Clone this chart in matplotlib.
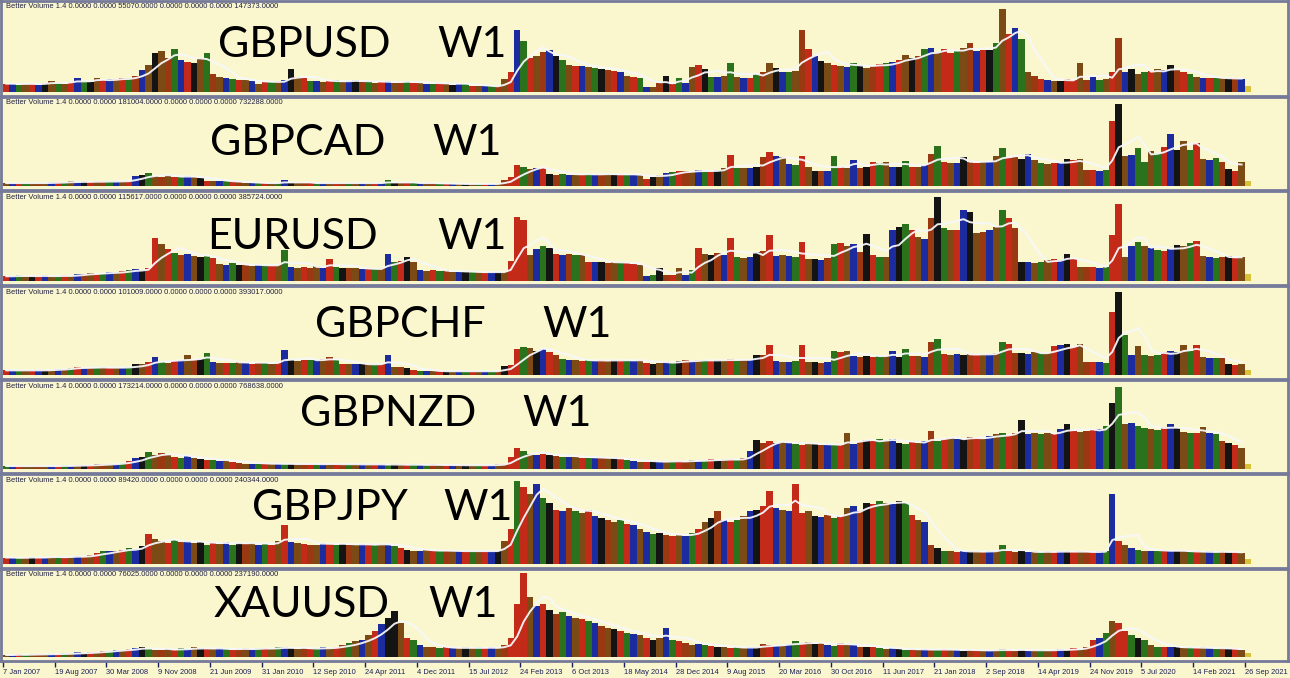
import numpy as np
import pandas as pd
import matplotlib
matplotlib.use("Agg")
import matplotlib.pyplot as plt

# === DATA ===
# bar heights in % of the window max volume, one bar = 4 weeks (193 bars from 7 Jan 2007)
symbols = ["GBPUSD", "GBPCAD", "EURUSD", "GBPCHF", "GBPNZD", "GBPJPY", "XAUUSD"]
vol_mid = [55070, 181004, 115617, 101009, 173214, 89420, 76025]
vol_max = [147373, 732288, 385724, 393017, 768638, 240344, 237190]

date_labels = ["7 Jan 2007", "19 Aug 2007", "30 Mar 2008", "9 Nov 2008", "21 Jun 2009",
               "31 Jan 2010", "12 Sep 2010", "24 Apr 2011", "4 Dec 2011", "15 Jul 2012",
               "24 Feb 2013", "6 Oct 2013", "18 May 2014", "28 Dec 2014", "9 Aug 2015",
               "20 Mar 2016", "30 Oct 2016", "11 Jun 2017", "21 Jan 2018", "2 Sep 2018",
               "14 Apr 2019", "24 Nov 2019", "5 Jul 2020", "14 Feb 2021", "26 Sep 2021"]

gbpusd = [9, 9, 8, 9, 9, 8, 10, 12, 10, 9, 11, 16, 12, 11, 15, 13,
          14, 14, 15, 16, 18, 24, 30, 44, 46, 38, 48, 36, 34, 33, 38, 44,
          20, 17, 15, 14, 13, 13, 12, 9, 11, 11, 12, 13, 26, 17, 15, 12,
          12, 11, 12, 13, 11, 12, 13, 11, 12, 10, 11, 12, 10, 11, 12, 10,
          10, 9, 9, 10, 9, 8, 9, 9, 6, 6, 6, 6, 6, 14, 22, 70,
          58, 38, 40, 45, 47, 40, 36, 30, 29, 29, 28, 27, 26, 25, 23, 22,
          18, 17, 16, 5, 5, 10, 18, 9, 15, 10, 28, 30, 26, 17, 17, 18,
          32, 17, 16, 16, 20, 22, 33, 27, 22, 22, 23, 70, 48, 40, 35, 33,
          30, 29, 28, 32, 30, 27, 29, 31, 33, 34, 36, 42, 38, 40, 48, 50,
          45, 48, 44, 46, 50, 55, 46, 47, 47, 55, 94, 65, 72, 60, 22, 18,
          14, 13, 12, 12, 14, 13, 33, 13, 17, 13, 14, 22, 61, 22, 26, 20,
          22, 23, 26, 24, 30, 24, 22, 20, 17, 16, 15, 15, 15, 15, 15, 14,
          6]
gbpcad = [3, 3, 3, 3, 3, 3, 3, 4, 4, 4, 5, 4, 5, 4, 5, 5,
          5, 5, 5, 6, 11, 13, 15, 11, 10, 12, 10, 10, 11, 10, 9, 6,
          5, 5, 5, 5, 4, 3, 3, 3, 3, 3, 3, 7, 3, 3, 3, 3,
          3, 3, 3, 3, 3, 3, 3, 3, 3, 3, 3, 7, 3, 3, 3, 3,
          3, 3, 3, 2, 2, 2, 2, 2, 2, 2, 2, 2, 2, 7, 10, 24,
          22, 19, 21, 20, 14, 13, 14, 13, 13, 13, 14, 13, 13, 14, 13, 13,
          13, 13, 12, 8, 10, 13, 15, 16, 17, 17, 16, 18, 17, 17, 18, 20,
          36, 21, 20, 21, 22, 33, 39, 34, 33, 25, 24, 35, 22, 17, 17, 17,
          35, 22, 21, 30, 21, 22, 27, 26, 27, 22, 22, 29, 22, 22, 24, 37,
          46, 27, 26, 26, 33, 27, 26, 27, 27, 35, 44, 32, 33, 31, 37, 30,
          26, 25, 26, 26, 31, 30, 31, 18, 18, 17, 18, 75, 95, 35, 36, 44,
          27, 40, 38, 45, 60, 42, 52, 42, 50, 31, 30, 32, 28, 19, 17, 27,
          5]
eurusd = [5, 5, 6, 5, 5, 5, 6, 5, 5, 6, 5, 8, 8, 9, 8, 8,
          10, 10, 11, 12, 13, 12, 15, 49, 42, 36, 32, 30, 31, 28, 27, 28,
          26, 19, 18, 20, 18, 18, 17, 18, 18, 17, 18, 35, 16, 15, 16, 15,
          17, 15, 25, 16, 15, 15, 14, 13, 13, 13, 14, 31, 22, 23, 27, 22,
          12, 11, 12, 11, 12, 10, 10, 10, 10, 10, 9, 10, 10, 10, 23, 73,
          70, 29, 36, 40, 37, 31, 30, 31, 30, 29, 22, 21, 22, 20, 21, 21,
          20, 19, 18, 5, 6, 15, 6, 7, 14, 7, 12, 38, 31, 30, 32, 30,
          49, 27, 26, 27, 33, 34, 52, 28, 29, 28, 27, 44, 25, 25, 24, 26,
          42, 43, 40, 42, 33, 54, 30, 27, 27, 58, 62, 65, 58, 50, 48, 72,
          96, 60, 58, 58, 81, 79, 55, 56, 58, 62, 81, 72, 60, 21, 22, 20,
          21, 24, 25, 24, 31, 25, 16, 16, 16, 15, 16, 52, 88, 27, 40, 44,
          40, 38, 35, 34, 36, 41, 40, 43, 46, 28, 27, 26, 27, 28, 26, 27,
          8]
gbpchf = [5, 5, 5, 5, 5, 5, 5, 6, 7, 7, 8, 9, 8, 8, 8, 9,
          8, 8, 8, 9, 12, 12, 15, 21, 15, 14, 16, 17, 23, 17, 18, 25,
          15, 14, 14, 14, 15, 14, 13, 14, 14, 13, 14, 29, 17, 16, 17, 17,
          17, 18, 20, 17, 13, 12, 12, 12, 12, 12, 13, 23, 9, 9, 8, 6,
          4, 4, 4, 4, 4, 4, 4, 4, 4, 4, 4, 4, 4, 10, 11, 30,
          32, 31, 28, 30, 26, 23, 18, 17, 17, 16, 17, 16, 17, 16, 17, 17,
          17, 16, 17, 14, 13, 14, 15, 14, 16, 17, 16, 17, 17, 16, 17, 17,
          18, 17, 17, 17, 23, 23, 35, 16, 15, 15, 16, 35, 15, 15, 14, 15,
          27, 26, 27, 22, 21, 22, 21, 22, 22, 28, 21, 30, 22, 22, 21, 38,
          42, 24, 23, 24, 23, 24, 23, 24, 24, 25, 38, 36, 25, 25, 24, 26,
          25, 25, 33, 34, 36, 32, 36, 15, 15, 15, 14, 73, 96, 46, 23, 33,
          23, 22, 23, 26, 27, 26, 35, 28, 34, 20, 19, 19, 19, 12, 11, 12,
          5]
gbpnzd = [3, 3, 3, 3, 3, 3, 3, 3, 3, 4, 3, 4, 4, 4, 5, 5,
          6, 6, 7, 9, 12, 14, 19, 16, 18, 16, 14, 13, 15, 12, 11, 10,
          10, 9, 10, 8, 7, 6, 6, 6, 6, 5, 6, 5, 6, 5, 5, 6,
          5, 5, 6, 5, 5, 5, 5, 5, 5, 5, 5, 4, 5, 5, 4, 5,
          4, 4, 5, 4, 4, 4, 4, 4, 4, 4, 4, 4, 5, 6, 14, 24,
          20, 17, 16, 17, 16, 15, 14, 14, 14, 13, 13, 12, 13, 12, 12, 11,
          10, 9, 8, 8, 9, 8, 8, 9, 9, 8, 10, 9, 10, 11, 10, 11,
          11, 10, 12, 20, 33, 30, 32, 30, 31, 30, 29, 28, 30, 29, 28, 27,
          27, 28, 42, 29, 31, 33, 32, 34, 33, 35, 30, 29, 31, 30, 32, 44,
          32, 34, 36, 35, 34, 37, 36, 35, 38, 40, 41, 39, 42, 56, 40, 41,
          40, 42, 40, 46, 52, 44, 43, 44, 45, 46, 50, 76, 95, 52, 53, 50,
          47, 46, 45, 48, 52, 47, 43, 42, 42, 48, 41, 40, 32, 30, 28, 24,
          5]
gbpjpy = [7, 7, 6, 7, 8, 7, 7, 8, 8, 7, 8, 9, 8, 10, 12, 15,
          14, 15, 16, 18, 17, 20, 34, 28, 26, 24, 27, 25, 26, 24, 25, 22,
          24, 23, 25, 22, 24, 23, 24, 22, 23, 22, 26, 44, 25, 24, 23, 22,
          22, 24, 23, 22, 23, 21, 22, 23, 22, 21, 23, 22, 20, 18, 16, 15,
          15, 16, 15, 14, 15, 14, 15, 14, 14, 15, 14, 15, 14, 26, 40, 95,
          88, 80, 92, 75, 70, 62, 60, 64, 60, 58, 62, 55, 52, 50, 48, 50,
          46, 44, 40, 36, 34, 35, 33, 32, 33, 32, 35, 40, 48, 52, 60, 50,
          48, 50, 55, 60, 62, 66, 84, 64, 62, 60, 92, 58, 60, 55, 54, 56,
          52, 55, 64, 66, 60, 70, 68, 72, 70, 68, 72, 70, 56, 50, 48, 22,
          18, 14, 14, 13, 14, 15, 14, 13, 14, 15, 22, 14, 13, 14, 13, 14,
          13, 14, 13, 15, 14, 13, 14, 13, 13, 14, 15, 80, 26, 22, 18, 16,
          15, 14, 15, 16, 14, 15, 14, 13, 14, 13, 14, 13, 14, 13, 13, 12,
          5]
xauusd = [2, 2, 3, 2, 3, 3, 3, 3, 3, 4, 4, 5, 4, 5, 6, 7,
          7, 8, 8, 9, 10, 12, 9, 8, 8, 9, 8, 10, 9, 11, 10, 9,
          9, 10, 9, 8, 9, 10, 9, 10, 10, 9, 11, 12, 10, 9, 10, 9,
          10, 11, 10, 12, 14, 16, 18, 20, 25, 30, 38, 46, 54, 40, 22, 20,
          14, 12, 11, 10, 11, 10, 10, 11, 10, 11, 10, 11, 10, 14, 22, 62,
          98, 70, 60, 62, 55, 50, 52, 48, 46, 44, 42, 40, 36, 34, 32, 30,
          28, 27, 26, 22, 20, 22, 34, 20, 18, 16, 14, 15, 14, 13, 12, 11,
          10, 11, 10, 12, 11, 15, 14, 13, 14, 15, 18, 16, 17, 15, 16, 14,
          13, 16, 15, 14, 12, 11, 12, 10, 9, 10, 9, 8, 9, 8, 9, 8,
          8, 9, 8, 8, 7, 8, 8, 7, 7, 8, 9, 8, 7, 8, 7, 8,
          8, 7, 8, 9, 8, 10, 9, 12, 20, 22, 28, 42, 40, 30, 26, 22,
          20, 14, 12, 11, 12, 11, 10, 11, 10, 11, 10, 9, 10, 9, 9, 8,
          4]

# bar colour class per bar (r red, g green, b blue, k black, n brown, o rust, p purple, y current)
gbpusd_cls = ("rbgnrbkn gnrbgknr bnrgobnk nogbrkng onbgrnbn rgnbknrg bnrgnbko gnrbnogr "
              "nbgrnkbg rnbgonrb grnobkgn rbngkorb nrgbnokr gbnrkgbn gnbrgonk bgnorbkn "
              "rnbgknor gbrnkogb nrrgnobr kgnrbgno rbnkrrno bgnrobkn grnbkorg nbrgnkob y")
gbpcad_cls = ("nbrgnonb rgnbkrno gbnrbkgn onrgbnkr nbgronbg rngbknor gbnrognb nrbgknrg "
              "bnogrbnk ngrbnorr gnbrkogb nrgbonkr gbnrknbg ronbgrkn rgnbkorb nbgrnkob "
              "grnbokrg nbkgrnbo grnbkorn bngrokbn gnrbkrno rbgrknbg gngrbkng rnbgokrn y")
eurusd_cls = ("rbgnkrbn grnbonrg bnrgbkrr nrgobnkg rnbgkonb grngbnro nbrgkonb rgnbgrkn "
              "bnrgonbk gnrbknrr rnbgkrbo gnrbkong rrnbgkor nbgrnkob rgnbkorb nbgrnkbo "
              "grnbokrg nbkgrnbo kgnrbkno bngrokbn gnrbkrno rbgrrnbg nbgrbkng rnbgokrn y")
gbpchf_cls = ("rbgnrbkn bngrbogn rnbgknrb gnrbnokg bnrgnbro gnrbknrg bnogrnbk ngrbnokr "
              "gbnrknbg rnbgokrr gnkbrogb nrgbonkr gbnrknbg kobngrkn rgnbkorb nbgrnkob "
              "grnbokrg nbkgrnbo grnbkorn bngrokbn gnrbkrno rbgrkgbn gngrbkng rnbgokrn y")
gbpnzd_cls = ("gbrnnonb rgbnkrno nbgrbkgn onrgbnkr gbnronbg rnbgknor gbnrognb nrbgknrg "
              "bgonrbnk ngrbnorr gnbrkogb nrgbonkr gbnrkbng ronbgrkn rgnbkorb nbgrnkob "
              "grnbokrg nbkgrnbo grnbkorn bngrokbn gnrbkrno rbgkgnbg gngrbkng rnbgokrn y")
gbpjpy_cls = ("rbgnkrbn grnbonrg bnrgbkrn nrgobnkg rnbgkonb grnrbnro nbrgkonb rgnbgrkn "
              "bnrgonbr gnrbknrg rnbgkrbo gnrbkong rbnbgkor nbgrnkob rgnbkrrb nbrrnkbo "
              "grnbokrg nbkgrnbo kgnrbkno bngrokbn gnrbkrno rbgbrnbg nbgrbkng rnbgokrn y")
xauusd_cls = ("nbrgnonb rgnbkrno gbnrbkgn onrgbnkr nbgronbg rngbknor gbnrognb nrbkknrg "
              "bnogrbnk ngrbnorr rnbrkogb nrgbonkr gbnrknbg ronbgrkn rgnbkorb nbgrnkob "
              "grnbokrg nbkgrnbo grnbkorn bngrokbn gnrbkrno rbgnrrgk gngrbkng rnbgokrn y")

heights = [gbpusd, gbpcad, eurusd, gbpchf, gbpnzd, gbpjpy, xauusd]
classes = [gbpusd_cls, gbpcad_cls, eurusd_cls, gbpchf_cls, gbpnzd_cls, gbpjpy_cls, xauusd_cls]

# === STYLE ===
W, H = 1290, 678
BG = "#faf7cf"
BORDER = "#75799a"
TXT = "#1a1f5a"
palette = {"r": "#c32a18", "g": "#2b721c", "b": "#1c2c9e", "k": "#141414",
           "n": "#7c4a14", "o": "#9a3812", "p": "#5e2a7c", "y": "#d8c23a"}

rows = [(1, 96), (97, 190), (191, 285), (286, 379), (380, 473), (474, 568), (569, 661)]
name_x = [(218, 437), (210, 432), (207, 437), (315, 542), (300, 522), (252, 443), (214, 428)]
name_base = [57, 155, 249, 337, 426, 520, 617]

px_per_week = 1.617
week0_px = 3
weeks_per_bar = 4

fig = plt.figure(figsize=(W / 100, H / 100), dpi=100, facecolor=BG)

for i, sym in enumerate(symbols):
    top, bot = rows[i]
    ax = fig.add_axes([1 / W, 1 - bot / H, 1287 / W, (bot - top) / H])
    ax.set_facecolor(BG)

    vmax = vol_max[i]
    vol = np.array(heights[i], dtype=float) / 100 * vmax
    xs = np.arange(len(vol)) * weeks_per_bar + weeks_per_bar / 2
    codes = "".join(classes[i].split())
    cols = [palette[codes[j]] if j < len(codes) else palette["n"] for j in range(len(vol))]

    ax.bar(xs, vol, width=weeks_per_bar, color=cols, linewidth=0)
    ma = pd.Series(vol).rolling(5, min_periods=1).mean()
    ax.plot(xs[:-1], ma[:-1], color="#f7f7fb", lw=1.4, alpha=0.95)

    ax.set_xlim(-(week0_px - 1) / px_per_week, (1288 - week0_px) / px_per_week)
    ax.set_ylim(-0.05 * vmax, 1.03 * vmax)
    ax.set_yticks([])
    for s in ax.spines.values():
        s.set_color(BORDER)
        s.set_linewidth(2)

    header = f"Better Volume 1.4 0.0000 0.0000 {vol_mid[i]}.0000 0.0000 0.0000 0.0000 {vmax}.0000"
    fig.text(6 / W, 1 - (top + 6) / H, header, fontsize=5.4, family="Liberation Sans",
             color="#202040", va="center", ha="left")

    x1, x2 = name_x[i]
    fig.text(x1 / W, 1 - name_base[i] / H, sym, fontsize=31, family="Lato",
             color="black", va="baseline", ha="left")
    fig.text(x2 / W, 1 - name_base[i] / H, "W1", fontsize=31, family="Lato",
             color="black", va="baseline", ha="left")

    if i < len(symbols) - 1:
        ax.set_xticks([])
    else:
        ax.set_xticks(np.arange(len(date_labels)) * 32)
        ax.set_xticklabels(date_labels)
        for lbl in ax.get_xticklabels():
            lbl.set_horizontalalignment("left")
            lbl.set_fontfamily("Liberation Sans")
        ax.tick_params(axis="x", direction="out", length=4, width=1, color=TXT,
                       labelsize=5.4, labelcolor=TXT, pad=2)

fig.savefig("out.png", dpi=100, facecolor=BG)
